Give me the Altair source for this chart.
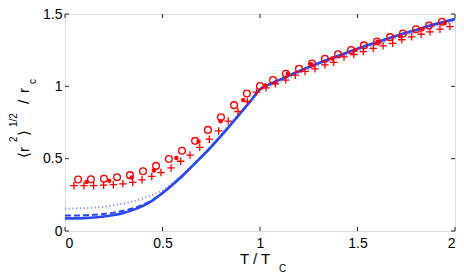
import altair as alt
import pandas as pd

# ---- data ----
circ_T = [0.067, 0.133, 0.200, 0.267, 0.333, 0.400, 0.467, 0.533, 0.600, 0.667,
          0.733, 0.800, 0.867, 0.933, 1.000, 1.067, 1.133, 1.200, 1.267, 1.333,
          1.400, 1.467, 1.533, 1.600, 1.667, 1.733, 1.800, 1.867, 1.933]
circ_v = [0.356, 0.358, 0.361, 0.372, 0.386, 0.413, 0.450, 0.498, 0.555, 0.623,
          0.699, 0.786, 0.870, 0.950, 1.002, 1.043, 1.087, 1.121, 1.158, 1.190,
          1.221, 1.251, 1.283, 1.310, 1.340, 1.365, 1.395, 1.420, 1.447]

dot_T = [0.111, 0.227, 0.342, 0.456, 0.571, 0.685, 0.798, 0.914, 1.027, 1.142,
         1.262, 1.370, 1.490, 1.603, 1.719, 1.832, 1.947]
dot_v = [0.338, 0.347, 0.370, 0.418, 0.505, 0.618, 0.758, 0.906, 1.005, 1.087,
         1.152, 1.192, 1.251, 1.308, 1.347, 1.395, 1.436]

plus_T = [0.046, 0.097, 0.147, 0.198, 0.248, 0.297, 0.347, 0.395, 0.445, 0.492,
          0.544, 0.593, 0.641, 0.691, 0.740, 0.788, 0.837, 0.887, 0.935, 0.982,
          1.031, 1.079, 1.132, 1.181, 1.231, 1.282, 1.333, 1.378, 1.431, 1.481,
          1.530, 1.581, 1.631, 1.680, 1.727, 1.778, 1.826, 1.872, 1.923, 1.974]
plus_v = [0.313, 0.313, 0.313, 0.317, 0.320, 0.326, 0.336, 0.354, 0.377, 0.404,
          0.436, 0.482, 0.525, 0.578, 0.635, 0.692, 0.760, 0.826, 0.895, 0.960,
          0.990, 1.018, 1.043, 1.077, 1.103, 1.121, 1.149, 1.166, 1.203, 1.220,
          1.240, 1.262, 1.280, 1.297, 1.322, 1.342, 1.360, 1.377, 1.395, 1.413]

solid_T = [0.0, 0.05, 0.1, 0.15, 0.2, 0.25, 0.3, 0.35, 0.4, 0.45, 0.5, 0.55, 0.6,
           0.65, 0.7, 0.75, 0.8, 0.85, 0.9, 0.95, 1.0, 1.05, 1.1, 1.2, 1.3, 1.4,
           1.5, 1.6, 1.7, 1.8, 1.9, 2.0]
solid_v = [0.087, 0.087, 0.089, 0.093, 0.100, 0.110, 0.125, 0.146, 0.174, 0.212,
           0.262, 0.318, 0.378, 0.445, 0.512, 0.582, 0.657, 0.735, 0.815, 0.895,
           0.980, 1.015, 1.045, 1.105, 1.160, 1.210, 1.260, 1.305, 1.350, 1.390,
           1.430, 1.465]

dash_T = [0.0, 0.05, 0.1, 0.15, 0.2, 0.25, 0.3, 0.35, 0.4, 0.45, 0.5, 0.55, 0.6,
          0.65, 0.7, 0.75, 0.8, 0.85, 0.9, 0.95, 1.0, 1.05, 1.1, 1.2, 1.3, 1.4,
          1.5, 1.6, 1.7, 1.8, 1.9, 2.0]
dash_v = [0.107, 0.107, 0.109, 0.112, 0.118, 0.127, 0.140, 0.157, 0.182, 0.216,
          0.262, 0.318, 0.378, 0.445, 0.512, 0.582, 0.657, 0.735, 0.815, 0.895,
          0.980, 1.015, 1.045, 1.105, 1.160, 1.210, 1.260, 1.305, 1.350, 1.390,
          1.430, 1.465]

dot_line_T = [0.0, 0.05, 0.1, 0.15, 0.2, 0.25, 0.3, 0.35, 0.4, 0.45, 0.5, 0.55,
              0.6, 0.65, 0.7, 0.75, 0.8, 0.85, 0.9, 0.95, 1.0, 1.05, 1.1, 1.2,
              1.3, 1.4, 1.5, 1.6, 1.7, 1.8, 1.9, 2.0]
dot_line_v = [0.155, 0.156, 0.158, 0.162, 0.168, 0.178, 0.190, 0.205, 0.225,
              0.250, 0.282, 0.330, 0.388, 0.452, 0.520, 0.590, 0.665, 0.745,
              0.825, 0.903, 0.975, 1.000, 1.030, 1.090, 1.145, 1.195, 1.245,
              1.290, 1.335, 1.375, 1.415, 1.450]

x_ticks = [0, 0.5, 1, 1.5, 2]
y_ticks = [0, 0.5, 1, 1.5]

W, H = 390, 217
FONT = "Liberation Sans"
BLUE = "#2a48f0"
LIGHTBLUE = "#7d96ff"
RED = "#ff0000"

xs = alt.Scale(domain=[0, 2], nice=False, zero=False)
ys = alt.Scale(domain=[0, 1.5], nice=False, zero=False)
xax = alt.Axis(values=x_ticks, domain=False, ticks=False, grid=False, title=None,
               labelFont=FONT, labelFontSize=14, labelColor="black", labelPadding=5,
               labelExpr="format(datum.value, '')")
yax = alt.Axis(values=y_ticks, domain=False, ticks=False, grid=False, title=None,
               labelFont=FONT, labelFontSize=14, labelColor="black", labelPadding=3,
               labelExpr="format(datum.value, '')")


def line(T, v, color, width, dash=None):
    df = pd.DataFrame({"T": T, "v": v})
    kw = dict(color=color, strokeWidth=width, interpolate="monotone", clip=True)
    if dash:
        kw["strokeDash"] = dash
    return alt.Chart(df).mark_line(**kw).encode(
        x=alt.X("T:Q", scale=xs, axis=xax), y=alt.Y("v:Q", scale=ys, axis=yax))


def pts(T, v, **mk):
    df = pd.DataFrame({"T": T, "v": v})
    return alt.Chart(df).mark_point(**mk).encode(
        x=alt.X("T:Q", scale=xs), y=alt.Y("v:Q", scale=ys))


dotted = line(dot_line_T, dot_line_v, LIGHTBLUE, 2, [1.2, 2.5])
dashed = line(dash_T, dash_v, BLUE, 2, [6, 3])
solid = line(solid_T, solid_v, BLUE, 2.6)

circles = pts(circ_T, circ_v, shape="circle", size=46, filled=False, color=RED,
              strokeWidth=1.3, opacity=1)
plus = pts(plus_T, plus_v, shape="M-1,0L1,0M0,-1L0,1", size=56, filled=False,
           color=RED, strokeWidth=1.3, opacity=1)
dots = pts(dot_T, dot_v, shape="circle", size=20, filled=True, color=RED, opacity=1)

# inward ticks on all four sides
xt = pd.DataFrame({"T": x_ticks})
yt = pd.DataFrame({"v": y_ticks})
tick_style = dict(color="#262626", strokeWidth=1)
tb = alt.Chart(xt).mark_rule(**tick_style).encode(
    x=alt.X("T:Q", scale=xs), y=alt.value(H), y2=alt.value(H - 4))
tt = alt.Chart(xt).mark_rule(**tick_style).encode(
    x=alt.X("T:Q", scale=xs), y=alt.value(0), y2=alt.value(4))
tl = alt.Chart(yt).mark_rule(**tick_style).encode(
    y=alt.Y("v:Q", scale=ys), x=alt.value(0), x2=alt.value(4))
tr = alt.Chart(yt).mark_rule(**tick_style).encode(
    y=alt.Y("v:Q", scale=ys), x=alt.value(W), x2=alt.value(W - 4))

one = pd.DataFrame({"a": [0]})


def txt(s, x, y, size, angle=0, align="left", baseline="alphabetic"):
    kw = dict(text=s, font=FONT, fontSize=size, color="black", align=align,
              baseline=baseline)
    if angle:
        kw["angle"] = angle
    return alt.Chart(one).mark_text(**kw).encode(x=alt.value(x), y=alt.value(y))


# axis titles (with super/subscripts)
xt1 = txt("T / T", 175, 250, 15)
xt2 = txt("C", 214, 258, 10)
yl = [
    txt("\u27e8r", -41, 144, 15, 270, "left", "middle"),
    txt("2", -51, 128, 10, 270, "left", "middle"),
    txt("\u27e9", -41, 122, 15, 270, "left", "middle"),
    txt("1/2", -51, 113, 10, 270, "left", "middle"),
    txt("/", -41, 90, 15, 270, "left", "middle"),
    txt("r", -41, 79, 15, 270, "left", "middle"),
    txt("c", -32, 70, 10, 270, "left", "middle"),
]

chart = alt.layer(
    dotted, dashed, solid, circles, plus, dots, tb, tt, tl, tr, xt1, xt2, *yl
).properties(
    width=W, height=H, autosize=alt.AutoSizeParams(type="none"),
    padding={"left": 57, "top": 6, "right": 1, "bottom": 45},
).configure_view(stroke="#262626", strokeWidth=1).configure(background="white")

chart.save("out.html", embed_options={"renderer": "svg", "actions": False})
